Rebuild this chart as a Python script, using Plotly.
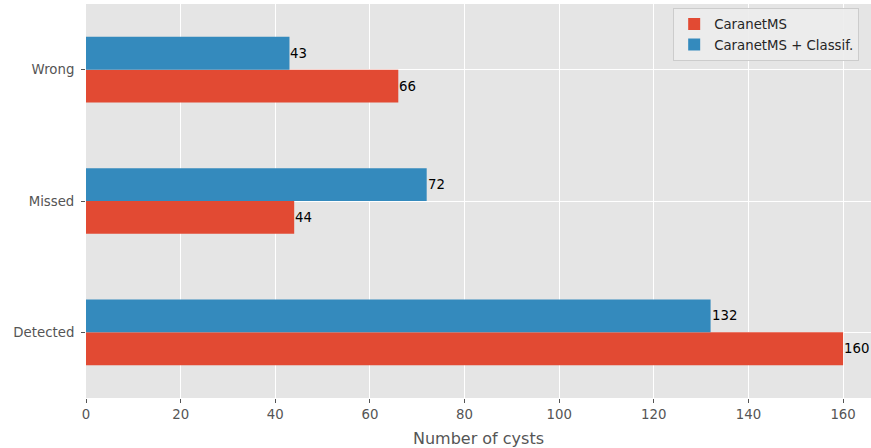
import plotly.graph_objects as go

categories = ["Detected", "Missed", "Wrong"]
caranet_ms = [160, 44, 66]
caranet_ms_classif = [132, 72, 43]
series_names = ["CaranetMS", "CaranetMS + Classif."]
x_ticks = [0, 20, 40, 60, 80, 100, 120, 140, 160]

RED = "#E24A33"
BLUE = "#348ABD"
FONT = "DejaVu Sans"
BAR_W = 0.25

fig = go.Figure()
for name, vals, col in [(series_names[0], caranet_ms, RED),
                        (series_names[1], caranet_ms_classif, BLUE)]:
    fig.add_trace(go.Bar(
        y=categories, x=vals, name=name, orientation="h",
        marker=dict(color=col, line=dict(width=0)),
        cliponaxis=False,
    ))

annotations = []
for off, vals in [(-BAR_W / 2, caranet_ms), (BAR_W / 2, caranet_ms_classif)]:
    for i, v in enumerate(vals):
        annotations.append(dict(
            x=v, y=i + off, xref="x", yref="y", text=str(v), showarrow=False,
            xanchor="left", yanchor="middle", xshift=0, borderpad=0,
            font=dict(family=FONT, size=13.3, color="#000000"),
        ))

fig.update_layout(
    width=871, height=448,
    margin=dict(l=86, r=0, t=4, b=50),
    barmode="group", bargap=0.5, bargroupgap=0,
    plot_bgcolor="#E5E5E5", paper_bgcolor="#FFFFFF",
    font=dict(family=FONT, size=13.3, color="#555555"),
    showlegend=True,
    annotations=annotations,
    legend=dict(
        x=0.748, y=0.99, xanchor="left", yanchor="top",
        bgcolor="rgba(236,236,236,0.9)", bordercolor="#CCCCCC", borderwidth=1,
        font=dict(family=FONT, size=13.3, color="#262626"),
        traceorder="normal", tracegroupgap=0,
    ),
    xaxis=dict(
        range=[0, 165.9], tickvals=x_ticks, ticks="outside", ticklen=4,
        tickcolor="#555555", gridcolor="#FFFFFF", gridwidth=1, zeroline=False,
        showline=False, tickfont=dict(size=13.3, color="#555555"),
        title=dict(text="Number of cysts", font=dict(size=16, color="#555555"), standoff=11),
    ),
    yaxis=dict(
        categoryorder="array", categoryarray=categories, range=[-0.5, 2.5],
        ticks="outside", ticklen=4, tickcolor="#555555", gridcolor="#FFFFFF",
        gridwidth=1, zeroline=False, showline=False, ticklabelstandoff=4,
        tickfont=dict(size=13.3, color="#555555"),
    ),
)

fig.write_html("out.html", config={"displayModeBar": False},
               post_script="document.body.style.margin='0';")
